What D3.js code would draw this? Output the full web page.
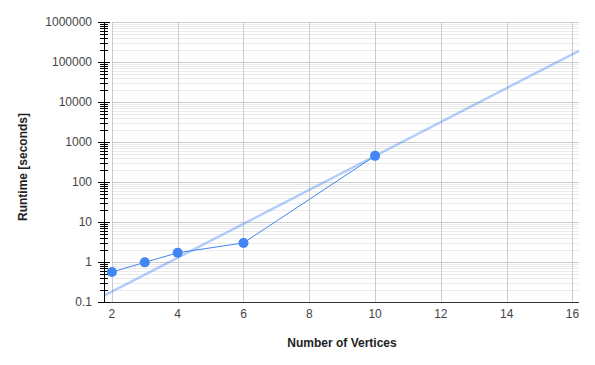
<!DOCTYPE html>
<html>
<head>
<meta charset="utf-8">
<script src="https://cdn.jsdelivr.net/npm/d3@7"></script>
<style>
  body { margin: 0; background: #fff; }
  text { font-family: "Liberation Sans", Arial, sans-serif; }
</style>
</head>
<body>
<svg id="chart" width="595" height="365"></svg>
<script>
// data
const vertices = [2, 3, 4, 6, 10];
const runtimes = [0.56, 0.98, 1.7, 3.0, 450];
// exponential trendline, end points
const trendX = [1.79, 16.2];
const trendY = [0.148, 190000];
const xTicks = [2, 4, 6, 8, 10, 12, 14, 16];
const yTicks = [0.1, 1, 10, 100, 1000, 10000, 100000, 1000000];

const plotL = 105, plotR = 579, plotT = 22, plotB = 302;

const svg = d3.select("#chart");

const x = d3.scaleLinear().domain([1.79, 16.2]).range([plotL, plotR]);
const y = d3.scaleLog().domain([0.1, 1000000]).range([plotB, plotT]);

// minor values (2..9 per decade)
let minor = [];
for (let d = 0; d < yTicks.length - 1; d++) {
  for (let m = 2; m <= 9; m++) minor.push(yTicks[d] * m);
}

const grid = svg.append("g");
const gx0 = x(2);
grid.selectAll(".minor").data(minor).enter().append("line")
  .attr("x1", gx0).attr("x2", plotR)
  .attr("y1", d => Math.round(y(d)) + 0.5).attr("y2", d => Math.round(y(d)) + 0.5)
  .attr("stroke", "#ebebeb");
grid.selectAll(".major").data(yTicks.slice(1)).enter().append("line")
  .attr("x1", gx0).attr("x2", plotR)
  .attr("y1", d => Math.round(y(d)) + 0.5).attr("y2", d => Math.round(y(d)) + 0.5)
  .attr("stroke", "#cccccc");
grid.selectAll(".vx").data(xTicks).enter().append("line")
  .attr("x1", d => Math.round(x(d)) + 0.5).attr("x2", d => Math.round(x(d)) + 0.5)
  .attr("y1", plotT).attr("y2", plotB)
  .attr("stroke", "#cccccc");
// baseline
svg.append("line")
  .attr("x1", plotL).attr("x2", plotR)
  .attr("y1", plotB + 0.5).attr("y2", plotB + 0.5)
  .attr("stroke", "#333");

// y axis line and ticks
const ax = svg.append("g");
ax.append("line")
  .attr("x1", plotL - 0.5).attr("x2", plotL - 0.5)
  .attr("y1", plotT).attr("y2", plotB + 1)
  .attr("stroke", "#000");
ax.selectAll(".mt").data(minor).enter().append("line")
  .attr("x1", plotL - 5).attr("x2", plotL + 3)
  .attr("y1", d => Math.round(y(d)) + 0.5).attr("y2", d => Math.round(y(d)) + 0.5)
  .attr("stroke", "#000");
ax.selectAll(".Mt").data(yTicks).enter().append("line")
  .attr("x1", plotL - 7).attr("x2", plotL + 5)
  .attr("y1", d => Math.round(y(d)) + 0.5).attr("y2", d => Math.round(y(d)) + 0.5)
  .attr("stroke", "#000");
ax.selectAll(".yl").data(yTicks).enter().append("text")
  .attr("x", 92).attr("y", d => y(d) + 4)
  .attr("text-anchor", "end")
  .attr("font-size", 12).attr("fill", "#444")
  .text(d => d3.format("~f")(d));

svg.selectAll(".xl").data(xTicks).enter().append("text")
  .attr("x", d => x(d)).attr("y", 318)
  .attr("text-anchor", "middle")
  .attr("font-size", 12).attr("fill", "#444")
  .text(d => d);

// trendline
svg.append("path")
  .datum(trendX.map((v, i) => [v, trendY[i]]))
  .attr("d", d3.line().x(d => x(d[0])).y(d => y(d[1])))
  .attr("fill", "none")
  .attr("stroke", "#4285f4").attr("stroke-opacity", 0.4)
  .attr("stroke-width", 2.5);

// series
const pts = vertices.map((v, i) => [v, runtimes[i]]);
svg.append("path")
  .datum(pts)
  .attr("d", d3.line().x(d => x(d[0])).y(d => y(d[1])))
  .attr("fill", "none")
  .attr("stroke", "#4285f4").attr("stroke-width", 1);
svg.selectAll(".pt").data(pts).enter().append("circle")
  .attr("cx", d => x(d[0])).attr("cy", d => y(d[1]))
  .attr("r", 5).attr("fill", "#4285f4");

// axis titles
svg.append("text")
  .attr("x", 342).attr("y", 347)
  .attr("text-anchor", "middle")
  .attr("font-size", 12).attr("font-weight", "bold").attr("fill", "#222")
  .text("Number of Vertices");
svg.append("text")
  .attr("transform", "translate(27,167) rotate(-90)")
  .attr("text-anchor", "middle")
  .attr("font-size", 12).attr("font-weight", "bold").attr("fill", "#222")
  .text("Runtime [seconds]");
</script>
</body>
</html>
